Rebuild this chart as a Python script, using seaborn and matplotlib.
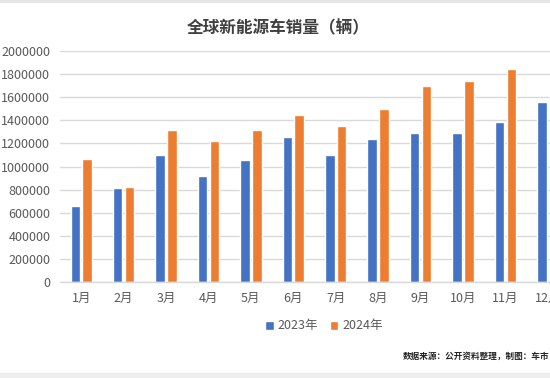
import numpy as np
import pandas as pd
import matplotlib
matplotlib.use("Agg")
import matplotlib.pyplot as plt
import seaborn as sns
from matplotlib.patches import Rectangle

months = ["1月", "2月", "3月", "4月", "5月", "6月", "7月", "8月", "9月", "10月", "11月", "12月"]
years = ["2023年", "2024年"]
sales_2023 = [660000, 810000, 1100000, 920000, 1055000, 1255000, 1100000, 1240000, 1292000, 1292000, 1383000, 1556000]
sales_2024 = [1065000, 826000, 1316000, 1220000, 1320000, 1450000, 1350000, 1498000, 1700000, 1742000, 1840000, np.nan]
yticks = list(range(0, 2000001, 200000))

df = pd.DataFrame({
    "month": months * 2,
    "year": [years[0]] * 12 + [years[1]] * 12,
    "sales": sales_2023 + sales_2024,
})

sns.set_theme(style="white")
plt.rcParams["font.family"] = ["Noto Sans CJK SC", "DejaVu Sans"]

W, H = 550, 378
fig = plt.figure(figsize=(W / 100, H / 100), dpi=100)
fig.patch.set_facecolor("white")
# axes run past the right edge like the cropped original
ax = fig.add_axes([60 / W, 96 / H, 509 / W, 231 / H])

sns.barplot(data=df, x="month", y="sales", hue="year", order=months, hue_order=years,
            palette=["#4472C4", "#ED7D31"], saturation=1, width=0.56, gap=0.2, ax=ax,
            legend=True)

ax.set_xlim(-0.5, 11.5)
ax.set_ylim(0, 2000000)
ax.set_yticks(yticks)
ax.set_yticklabels([str(v) for v in yticks])
ax.yaxis.grid(True, color="#D9D9D9", linewidth=1)
ax.set_axisbelow(True)
for s in ["top", "right", "left"]:
    ax.spines[s].set_visible(False)
ax.spines["bottom"].set_color("#D9D9D9")
ax.spines["bottom"].set_linewidth(1)
ax.tick_params(axis="y", length=0, pad=7, labelsize=9, labelcolor="#595959")
ax.tick_params(axis="x", length=0, pad=7, labelsize=9, labelcolor="#595959")
ax.set_xlabel("")
ax.set_ylabel("")

handles, labels = ax.get_legend_handles_labels()
ax.legend_.remove()
fig.legend(handles, labels, loc="center", bbox_to_anchor=(324 / W, 1 - 326 / H), ncol=2,
           frameon=False, fontsize=9, handlelength=0.7, handleheight=0.7, handletextpad=0.3,
           columnspacing=0.9, labelcolor="#595959")

fig.text(278 / W, 1 - 28 / H, "全球新能源车销量（辆）", ha="center", va="center",
         fontsize=12, fontweight="bold", color="#404040")
fig.text(403 / W, 1 - 356 / H, "数据来源：公开资料整理，制图：车市", ha="left", va="center",
         fontsize=6.2, fontweight="bold", color="#262626")

# light grey strips at the top and bottom edge of the screenshot
fig.patches.append(Rectangle((0, 1 - 2 / H), 1, 2 / H, transform=fig.transFigure,
                             color="#E6E6E6", zorder=0))
fig.patches.append(Rectangle((0, 0), 1, 5 / H, transform=fig.transFigure,
                             color="#EEEEEE", zorder=0))

fig.savefig("out.png", dpi=100)
